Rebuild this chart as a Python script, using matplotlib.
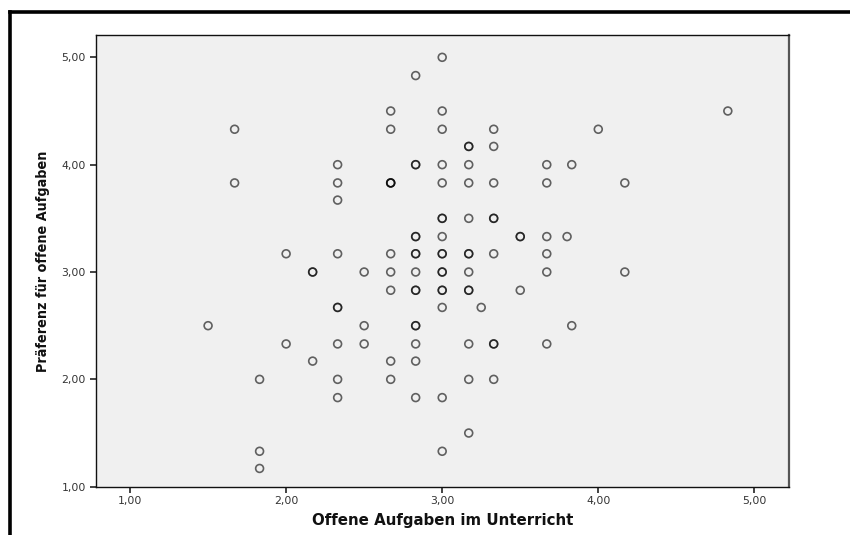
import matplotlib
matplotlib.use("Agg")
import matplotlib.pyplot as plt
from matplotlib.lines import Line2D
from matplotlib.ticker import FuncFormatter

# Data (repeated pairs = overlapping cases, drawn darker)
x_vals = [3.00,
          2.83,
          2.67, 3.00, 4.83,
          1.67, 2.67, 3.00, 3.33, 4.00,
          3.17, 3.17, 3.33,
          2.33, 2.83, 2.83, 3.00, 3.17, 3.67, 3.83,
          1.67, 2.33, 2.67, 2.67, 2.67, 3.00, 3.17, 3.33, 3.67, 4.17,
          2.33,
          3.00, 3.00, 3.17, 3.33, 3.33,
          2.83, 2.83, 3.00, 3.50, 3.50, 3.67, 3.80,
          2.00, 2.33, 2.67, 2.83, 2.83, 3.00, 3.00, 3.17, 3.17, 3.33, 3.67,
          2.17, 2.17, 2.50, 2.67, 2.83, 3.00, 3.00, 3.17, 3.67, 4.17,
          2.67, 2.83, 2.83, 3.00, 3.00, 3.17, 3.17, 3.50,
          2.33, 2.33, 3.00, 3.25,
          1.50, 2.50, 2.83, 2.83, 3.83,
          2.00, 2.33, 2.50, 2.83, 3.17, 3.33, 3.33, 3.67,
          2.17, 2.67, 2.83,
          1.83, 2.33, 2.67, 3.17, 3.33,
          2.33, 2.83, 3.00,
          3.17,
          1.83, 3.00,
          1.83]
y_vals = [5.00,
          4.83,
          4.50, 4.50, 4.50,
          4.33, 4.33, 4.33, 4.33, 4.33,
          4.17, 4.17, 4.17,
          4.00, 4.00, 4.00, 4.00, 4.00, 4.00, 4.00,
          3.83, 3.83, 3.83, 3.83, 3.83, 3.83, 3.83, 3.83, 3.83, 3.83,
          3.67,
          3.50, 3.50, 3.50, 3.50, 3.50,
          3.33, 3.33, 3.33, 3.33, 3.33, 3.33, 3.33,
          3.17, 3.17, 3.17, 3.17, 3.17, 3.17, 3.17, 3.17, 3.17, 3.17, 3.17,
          3.00, 3.00, 3.00, 3.00, 3.00, 3.00, 3.00, 3.00, 3.00, 3.00,
          2.83, 2.83, 2.83, 2.83, 2.83, 2.83, 2.83, 2.83,
          2.67, 2.67, 2.67, 2.67,
          2.50, 2.50, 2.50, 2.50, 2.50,
          2.33, 2.33, 2.33, 2.33, 2.33, 2.33, 2.33, 2.33,
          2.17, 2.17, 2.17,
          2.00, 2.00, 2.00, 2.00, 2.00,
          1.83, 1.83, 1.83,
          1.50,
          1.33, 1.33,
          1.17]
x_ticks = [1, 2, 3, 4, 5]
y_ticks = [1, 2, 3, 4, 5]
x_label = "Offene Aufgaben im Unterricht"
y_label = "Präferenz für offene Aufgaben"

fig = plt.figure(figsize=(8.5, 5.35), dpi=100)
fig.patch.set_facecolor("white")
ax = fig.add_axes([95.7/850, 1-486.7/535, (788.7-95.7)/850, (486.7-35)/535])
ax.set_facecolor("#f0f0f0")

ax.scatter(x_vals, y_vals, s=32, facecolors="none", edgecolors=(0, 0, 0, 0.6),
           linewidths=1.2, zorder=3)

ax.set_xlim(0.78, 5.22)
ax.set_ylim(1.0, 5.208)
ax.set_xticks(x_ticks)
ax.set_yticks(y_ticks)
fmt = FuncFormatter(lambda v, p: f"{v:.2f}".replace(".", ","))
ax.xaxis.set_major_formatter(fmt)
ax.yaxis.set_major_formatter(fmt)
ax.tick_params(axis="both", direction="out", length=4, width=1.2, color="#222222",
               labelsize=7.8, labelcolor="#333333", pad=3)

for side in ["left", "bottom", "top"]:
    ax.spines[side].set_color("#111111")
    ax.spines[side].set_linewidth(1.0)
ax.spines["right"].set_color("#555555")
ax.spines["right"].set_linewidth(1.6)

ax.set_xlabel(x_label, fontsize=10.8, fontweight="bold", color="#111111", labelpad=5)
ax.set_ylabel(y_label, fontsize=10.3, fontweight="bold", color="#111111", labelpad=8,
              fontstretch="condensed")

# outer frame (partially visible)
fig.add_artist(Line2D([10/850, 10/850], [0, 1-12/535], transform=fig.transFigure,
                      color="black", linewidth=2.6))
fig.add_artist(Line2D([10/850, 1], [1-12/535, 1-12/535], transform=fig.transFigure,
                      color="black", linewidth=2.6))

fig.savefig("out.png", dpi=100)
